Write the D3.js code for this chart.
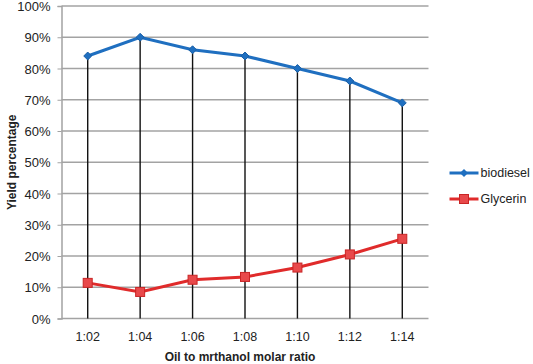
<!DOCTYPE html>
<html>
<head>
<meta charset="utf-8">
<script src="https://cdn.jsdelivr.net/npm/d3@7"></script>
<style>
  body { margin: 0; background: #fff; }
  text { font-family: "Liberation Sans", Arial, sans-serif; }
</style>
</head>
<body>
<div id="chart"></div>
<script>
// data
const ratios = ["1:02", "1:04", "1:06", "1:08", "1:10", "1:12", "1:14"];
const biodiesel = [84, 90, 86, 84, 80, 76, 69];
const glycerin = [11.4, 8.5, 12.4, 13.3, 16.3, 20.5, 25.5];
const yTicks = [0, 10, 20, 30, 40, 50, 60, 70, 80, 90, 100];

var margin = { top: 6, right: 104.5, bottom: 45.5, left: 61.5 },
  width = 533 - margin.left - margin.right,
  height = 364 - margin.top - margin.bottom;

var svg = d3.select("#chart").append("svg")
  .attr("width", 533)
  .attr("height", 364)
  .append("g")
  .attr("transform", "translate(" + margin.left + "," + margin.top + ")");

var x = d3.scaleBand()
  .domain(ratios)
  .range([0, width]);

var y = d3.scaleLinear()
  .domain([0, 100])
  .range([height, 0]);

const cx = d => x(d) + x.bandwidth() / 2;

// gridlines
svg.append("g")
  .selectAll("line")
  .data(yTicks)
  .enter().append("line")
  .attr("x1", 0)
  .attr("x2", width)
  .attr("y1", d => y(d))
  .attr("y2", d => y(d))
  .attr("stroke", "#a3a3a3")
  .attr("stroke-width", 1.5);

// y axis
var yAxis = d3.axisLeft(y)
  .tickValues(yTicks)
  .tickSize(4)
  .tickFormat(d => d + "%");

const yAxisGroup = svg.append("g").call(yAxis);
yAxisGroup.select(".domain").attr("stroke", "#a3a3a3").attr("stroke-width", 1.5);
yAxisGroup.selectAll(".tick line").attr("stroke", "#a3a3a3");
yAxisGroup.selectAll(".tick text")
  .attr("x", -11)
  .attr("dy", "0.36em")
  .attr("font-size", "13px")
  .attr("fill", "#222");

// x axis labels
var xAxis = d3.axisBottom(x).tickSize(0).tickPadding(14);
const xAxisGroup = svg.append("g")
  .attr("transform", "translate(0," + height + ")")
  .call(xAxis);
xAxisGroup.select(".domain").remove();
xAxisGroup.selectAll(".tick text")
  .attr("font-size", "12.5px")
  .attr("fill", "#222");

// drop lines
svg.append("g")
  .selectAll("line")
  .data(ratios)
  .enter().append("line")
  .attr("x1", d => cx(d))
  .attr("x2", d => cx(d))
  .attr("y1", (d, i) => y(Math.max(biodiesel[i], glycerin[i])))
  .attr("y2", y(0))
  .attr("stroke", "#111")
  .attr("stroke-width", 1.4);

// lines
var line = d3.line()
  .x((d, i) => cx(ratios[i]))
  .y(d => y(d));

svg.append("path")
  .datum(glycerin)
  .attr("fill", "none")
  .attr("stroke", "#e02b2b")
  .attr("stroke-width", 3)
  .attr("d", line);

svg.append("path")
  .datum(biodiesel)
  .attr("fill", "none")
  .attr("stroke", "#1f6fc0")
  .attr("stroke-width", 3)
  .attr("d", line);

// markers
const diamond = d3.symbol().type(d3.symbolDiamond2).size(40);
svg.append("g")
  .selectAll("path")
  .data(biodiesel)
  .enter().append("path")
  .attr("d", diamond)
  .attr("transform", (d, i) => "translate(" + cx(ratios[i]) + "," + y(d) + ")")
  .attr("fill", "#1f6fc0")
  .attr("stroke", "#1a5fa6")
  .attr("stroke-width", 1);

svg.append("g")
  .selectAll("rect")
  .data(glycerin)
  .enter().append("rect")
  .attr("x", (d, i) => cx(ratios[i]) - 4.5)
  .attr("y", d => y(d) - 4.5)
  .attr("width", 9)
  .attr("height", 9)
  .attr("fill", "#e8494b")
  .attr("stroke", "#c92525")
  .attr("stroke-width", 1);

// axis titles
svg.append("text")
  .attr("x", width / 2 - 5)
  .attr("y", height + 42)
  .attr("text-anchor", "middle")
  .attr("font-family", "Lato, sans-serif")
  .attr("font-size", "12px")
  .attr("font-weight", "bold")
  .attr("fill", "#222")
  .text("Oil to mrthanol molar ratio");

svg.append("text")
  .attr("transform", "rotate(-90)")
  .attr("x", -height / 2)
  .attr("y", -46)
  .attr("text-anchor", "middle")
  .attr("font-family", "Lato, sans-serif")
  .attr("font-size", "12px")
  .attr("font-weight", "bold")
  .attr("fill", "#222")
  .text("Yield percentage");

// legend
const legend = svg.append("g")
  .attr("transform", "translate(" + (width + 21) + ",0)");

const legendItems = [
  { name: "biodiesel", color: "#1f6fc0", y: 167 },
  { name: "Glycerin", color: "#e02b2b", y: 193 }
];

legendItems.forEach((item, i) => {
  legend.append("line")
    .attr("x1", 0).attr("x2", 29)
    .attr("y1", item.y).attr("y2", item.y)
    .attr("stroke", item.color)
    .attr("stroke-width", 3);
  if (i === 0) {
    legend.append("path")
      .attr("d", diamond)
      .attr("transform", "translate(14.5," + item.y + ")")
      .attr("fill", item.color);
  } else {
    legend.append("rect")
      .attr("x", 10).attr("y", item.y - 4.5)
      .attr("width", 9).attr("height", 9)
      .attr("fill", "#e8494b")
      .attr("stroke", "#c92525");
  }
  legend.append("text")
    .attr("x", 31)
    .attr("y", item.y)
    .attr("dy", "0.35em")
    .attr("font-size", "12.5px")
    .attr("fill", "#222")
    .text(item.name);
});
</script>
</body>
</html>
